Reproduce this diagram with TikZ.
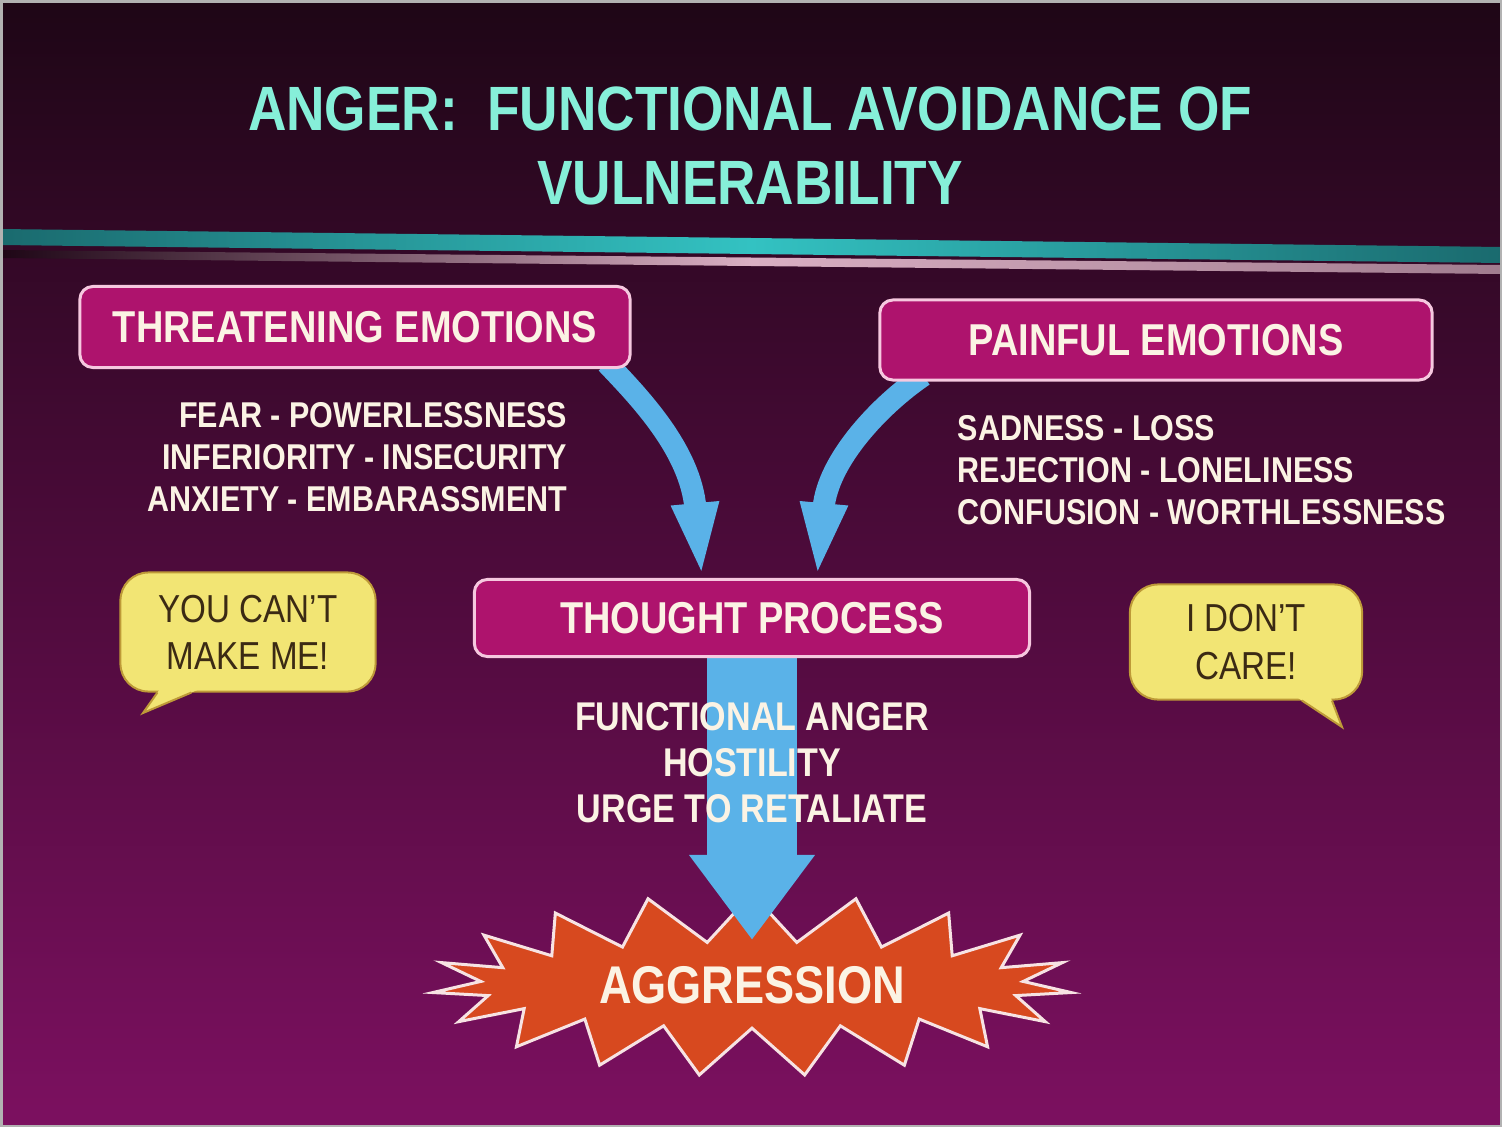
\documentclass[tikz,border=0pt]{standalone}
\usepackage{fontspec}
\setmainfont{Liberation Sans}[FakeStretch=0.85]
\usepackage{tikz}
\usetikzlibrary{shapes,arrows.meta,calc,positioning}
\pgfdeclarelayer{backdrop}
\pgfdeclarelayer{arrowlayer}
\pgfsetlayers{backdrop,arrowlayer,main}
\definecolor{slidetop}{HTML}{1E0616}
\definecolor{slidemid}{HTML}{540B3E}
\definecolor{slidebottom}{HTML}{7C1060}
\definecolor{titleaqua}{HTML}{86EFD9}
\definecolor{boxmagenta}{HTML}{AE136D}
\definecolor{boxrim}{HTML}{F6C8DF}
\definecolor{textcream}{HTML}{FBF3E4}
\definecolor{arrowblue}{HTML}{5AB2E8}
\definecolor{bubbleyellow}{HTML}{F2E574}
\definecolor{bubblerim}{HTML}{BE9A38}
\definecolor{bubbletext}{HTML}{3B2A14}
\definecolor{burstorange}{HTML}{D7491F}
\definecolor{burstrim}{HTML}{F7E3E3}
\definecolor{bandteal}{HTML}{33C2C2}
\definecolor{banddark}{HTML}{1A6A6E}
\definecolor{bandpink}{HTML}{D9AFC3}

\begin{document}
\begin{tikzpicture}[x=0.01cm, y=-0.01cm]
    \tikzstyle{heading} = [text=titleaqua, inner sep=0pt, font=\bfseries\fontsize{17.8pt}{21pt}\selectfont]
    \tikzstyle{block} = [draw=boxrim, fill=boxmagenta, shape=rectangle, rounded corners=0.13cm, line width=0.03cm, text=textcream, font=\bfseries\fontsize{12.7pt}{15pt}\selectfont]
    \tikzstyle{emotions} = [text=textcream, inner sep=0pt, font=\bfseries\fontsize{10.2pt}{11.9pt}\selectfont]
    \tikzstyle{reaction} = [text=textcream, inner sep=0pt, align=center, font=\bfseries\fontsize{11.4pt}{13.1pt}\selectfont]
    \tikzstyle{bubble} = [draw=bubblerim, fill=bubbleyellow, shape=rectangle, rounded corners=0.28cm, line width=0.02cm, text=bubbletext, align=center, font=\fontsize{11.1pt}{13.4pt}\selectfont]
    \tikzstyle{bubbletail} = [draw=bubblerim, line width=0.02cm]
    \tikzstyle{burst} = [starburst, starburst points=19, starburst point height=0.48cm, random starburst=0, draw=burstrim, fill=burstorange, line width=0.03cm, minimum width=6.4cm, minimum height=1.45cm, text=textcream, font=\bfseries\fontsize{15.1pt}{18pt}\selectfont]
    \tikzstyle{flow} = [arrowblue, line width=0.22cm, -{Triangle[length=0.75cm, width=0.42cm]}]
    \tikzstyle{mainflow} = [arrowblue, line width=0.89cm, -{Triangle[length=0.85cm, width=1.2cm]}]
    \useasboundingbox (0,0) rectangle (1502,1127);
    \begin{pgfonlayer}{backdrop}
        \shade[top color=slidetop, middle color=slidemid, bottom color=slidebottom] (0,0) rectangle (1502,1127);
        \shade[left color=banddark, right color=banddark, middle color=bandteal] (0,229) -- (1502,247) -- (1502,263) -- (0,245) -- cycle;
        \shade[left color=slidetop, right color=bandpink!70!slidetop, middle color=bandpink] (0,250) -- (1502,265) -- (1502,274) -- (0,258) -- cycle;
        \draw[gray!60, line width=0.03cm] (1,1) rectangle (1501,1126);
        \node[burst] (aggr) at (752,985) {AGGRESSION};
    \end{pgfonlayer}
    %Creating Headings, Blocks and Lists
    \node[heading] (title_a) at (750,109) {ANGER:\ \ FUNCTIONAL AVOIDANCE OF};
    \node[heading, below of=title_a, node distance=0.74cm] (title_b) {VULNERABILITY};

    \node[block, minimum width=5.5cm, minimum height=0.81cm] (threat_box) at (355,327) {THREATENING EMOTIONS};
    \node[block, minimum width=5.52cm, minimum height=0.8cm] (pain_box) at (1156,340) {PAINFUL EMOTIONS};
    \node[block, minimum width=5.55cm, minimum height=0.77cm] (thought_box) at (752,618) {THOUGHT PROCESS};

    \node[emotions, anchor=east, align=right] (threat_list) at (568,457) {FEAR - POWERLESSNESS\\INFERIORITY - INSECURITY\\ANXIETY - EMBARASSMENT};
    \node[emotions, anchor=west, align=left] (pain_list) at (957,470) {SADNESS - LOSS\\REJECTION - LONELINESS\\CONFUSION - WORTHLESSNESS};
    \node[reaction, below of=thought_box, node distance=1.45cm] (thought_list) {FUNCTIONAL ANGER\\HOSTILITY\\URGE TO RETALIATE};

    %Speech bubbles
    \node[bubble, minimum width=2.55cm, minimum height=1.19cm] (bubble_left) at (248,632) {YOU CAN’T\\MAKE ME!};
    \coordinate (tip_left) at (143,713);
    \coordinate (root_left_a) at ($(bubble_left.south west)+(38,0)$);
    \coordinate (root_left_b) at ($(bubble_left.south west)+(72,0)$);
    \fill[bubbleyellow] ($(tip_left)!1.6!(root_left_a)$) -- (tip_left) -- ($(tip_left)!1.6!(root_left_b)$) -- cycle;
    \draw[bubbletail] (root_left_a) -- (tip_left) -- (root_left_b);

    \node[bubble, minimum width=2.32cm, minimum height=1.15cm] (bubble_right) at (1246,642) {I DON’T\\CARE!};
    \coordinate (tip_right) at (1342,727);
    \coordinate (root_right_a) at ($(bubble_right.south west)+(173,0)$);
    \coordinate (root_right_b) at ($(bubble_right.south west)+(203,0)$);
    \fill[bubbleyellow] ($(tip_right)!1.6!(root_right_a)$) -- (tip_right) -- ($(tip_right)!1.6!(root_right_b)$) -- cycle;
    \draw[bubbletail] (root_right_a) -- (tip_right) -- (root_right_b);

    %Connecting Blocks
    \begin{pgfonlayer}{arrowlayer}
        \draw[flow] ($(threat_box.south east)+(-25,-6)$) .. controls (640,398) and (690,450) .. ($(thought_box.north)+(-50,0)$);
        \draw[flow] ($(pain_box.south west)+(45,-6)$) .. controls (880,405) and (828,460) .. ($(thought_box.north)+(65,0)$);
        \draw[mainflow] (thought_box.south) -- ($(aggr.center)+(0,-45)$);
    \end{pgfonlayer}
\end{tikzpicture}
\end{document}
